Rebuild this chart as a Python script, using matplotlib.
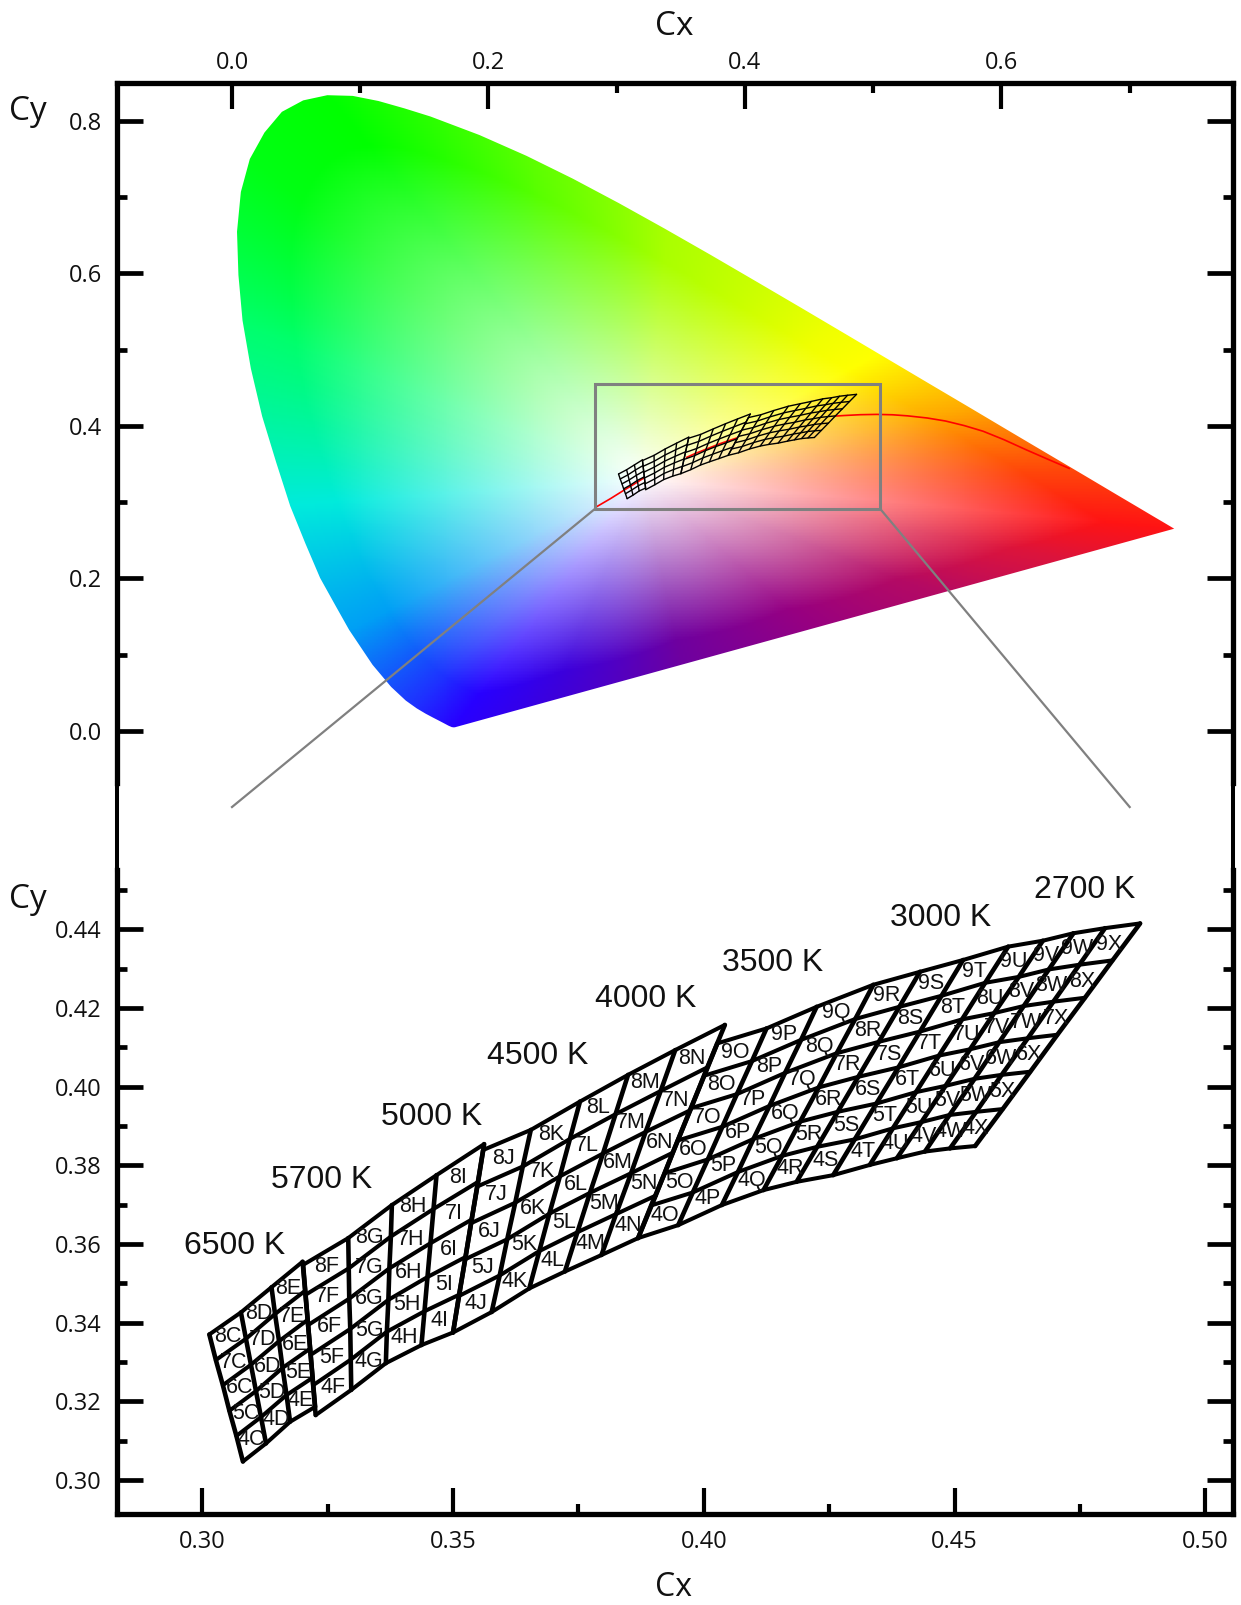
import numpy as np
import matplotlib
matplotlib.use("Agg")
import matplotlib.pyplot as plt
from matplotlib.lines import Line2D
from matplotlib.patches import Polygon, Rectangle

# spectral locus (CIE 1931), 380 nm to 700 nm
locus_x = [0.1741, 0.1733, 0.1726, 0.1714, 0.1689, 0.1644, 0.1611, 0.1566, 0.1510, 0.1440,
           0.1355, 0.1241, 0.1096, 0.0913, 0.0805, 0.0687, 0.0573, 0.0454, 0.0345, 0.0235,
           0.0147, 0.0082, 0.0050, 0.0039, 0.0069, 0.0139, 0.0253, 0.0389, 0.0555, 0.0743,
           0.0941, 0.1142, 0.1345, 0.1547, 0.1929, 0.2296, 0.2658, 0.3016, 0.3373, 0.3731,
           0.4087, 0.4441, 0.4788, 0.5125, 0.5448, 0.5752, 0.6029, 0.6270, 0.6658, 0.6915,
           0.7079, 0.7190, 0.7260, 0.7300, 0.7334, 0.7347]
locus_y = [0.0050, 0.0048, 0.0048, 0.0051, 0.0069, 0.0109, 0.0138, 0.0177, 0.0227, 0.0297,
           0.0399, 0.0578, 0.0868, 0.1327, 0.1650, 0.2007, 0.2456, 0.2950, 0.3520, 0.4127,
           0.4754, 0.5384, 0.5980, 0.6548, 0.7069, 0.7502, 0.7848, 0.8120, 0.8270, 0.8338,
           0.8329, 0.8262, 0.8165, 0.8059, 0.7816, 0.7543, 0.7243, 0.6923, 0.6589, 0.6245,
           0.5896, 0.5547, 0.5202, 0.4866, 0.4544, 0.4242, 0.3965, 0.3725, 0.3340, 0.3083,
           0.2920, 0.2809, 0.2740, 0.2700, 0.2666, 0.2653]

# points on the straight purple edge, so the fade below reaches full colour there
purple_x = [0.65, 0.55, 0.45, 0.35, 0.25]
purple_y = [0.2256, 0.1793, 0.1329, 0.0866, 0.0402]

# colours read along the edge of the horseshoe, the inside fades to white at the white point
edge_x = [0.174, 0.140, 0.090, 0.045, 0.010, 0.014, 0.074, 0.230, 0.340, 0.470, 0.500, 0.575, 0.660, 0.735,
          0.650, 0.550, 0.450, 0.350, 0.250]
edge_y = [0.005, 0.030, 0.130, 0.295, 0.530, 0.750, 0.834, 0.754, 0.660, 0.530, 0.490, 0.424, 0.340, 0.265,
          0.225, 0.180, 0.135, 0.090, 0.040]
edge_r = [40, 30, 0, 0, 0, 0, 0, 90, 170, 240, 255, 255, 255, 255, 220, 180, 150, 110, 60]
edge_g = [0, 50, 160, 235, 255, 255, 255, 255, 255, 255, 255, 170, 70, 20, 20, 10, 0, 0, 0]
edge_b = [255, 255, 245, 220, 110, 20, 0, 0, 0, 0, 0, 0, 10, 20, 60, 100, 130, 160, 220]
white_x, white_y = 0.32, 0.33

# black body curve, only the pieces that show through the small grid (nan = gap)
bb_x = [0.2844, 0.2952, 0.3064, 0.3135, 0.3207, np.nan, 0.3546, 0.3608, 0.3805, 0.3935, np.nan,
        0.4715, 0.4770, 0.4900, 0.5029, 0.5150, 0.5267, 0.5420, 0.5564, 0.5710, 0.5857, 0.6020, 0.6190, 0.6360, 0.6528]
bb_y = [0.2942, 0.3048, 0.3166, 0.3237, 0.3314, np.nan, 0.3589, 0.3636, 0.3768, 0.3842, np.nan,
        0.4131, 0.4137, 0.4148, 0.4152, 0.4147, 0.4133, 0.4105, 0.4065, 0.4005, 0.3931, 0.3820, 0.3690, 0.3565, 0.3444]

# bin grid corners, one inner list per column line, bottom to top
g1_x = [[0.3081, 0.3068, 0.3054, 0.3041, 0.3027, 0.3014],
        [0.3127, 0.3117, 0.3107, 0.3097, 0.3087, 0.3077],
        [0.3175, 0.3168, 0.3160, 0.3153, 0.3145, 0.3138],
        [0.3225, 0.3220, 0.3215, 0.3210, 0.3205, 0.3200]]
g1_y = [[0.3047, 0.3112, 0.3176, 0.3241, 0.3305, 0.3370],
        [0.3093, 0.3160, 0.3226, 0.3293, 0.3359, 0.3426],
        [0.3148, 0.3216, 0.3285, 0.3353, 0.3422, 0.3490],
        [0.3186, 0.3260, 0.3334, 0.3407, 0.3481, 0.3555]]
g2_x = [[0.3226, 0.3221, 0.3216, 0.3211, 0.3206, 0.3201],
        [0.3297, 0.3296, 0.3295, 0.3293, 0.3292, 0.3291],
        [0.3366, 0.3368, 0.3371, 0.3373, 0.3376, 0.3378],
        [0.3437, 0.3443, 0.3449, 0.3455, 0.3461, 0.3467],
        [0.3500, 0.3512, 0.3525, 0.3537, 0.3550, 0.3562]]
g2_y = [[0.3165, 0.3241, 0.3318, 0.3394, 0.3471, 0.3547],
        [0.3229, 0.3306, 0.3384, 0.3461, 0.3538, 0.3615],
        [0.3297, 0.3377, 0.3458, 0.3538, 0.3619, 0.3699],
        [0.3343, 0.3429, 0.3516, 0.3602, 0.3689, 0.3775],
        [0.3375, 0.3471, 0.3567, 0.3662, 0.3758, 0.3854]]
g3_x = [[0.3500, 0.3512, 0.3524, 0.3536, 0.3548, 0.3560],
        [0.3577, 0.3593, 0.3608, 0.3624, 0.3639, 0.3655],
        [0.3652, 0.3672, 0.3692, 0.3713, 0.3733, 0.3753],
        [0.3723, 0.3748, 0.3773, 0.3799, 0.3824, 0.3849],
        [0.3796, 0.3825, 0.3855, 0.3884, 0.3914, 0.3943],
        [0.3869, 0.3904, 0.3938, 0.3973, 0.4007, 0.4042]]
g3_y = [[0.3375, 0.3468, 0.3561, 0.3653, 0.3746, 0.3839],
        [0.3427, 0.3520, 0.3612, 0.3705, 0.3797, 0.3890],
        [0.3487, 0.3582, 0.3677, 0.3772, 0.3867, 0.3962],
        [0.3530, 0.3630, 0.3730, 0.3830, 0.3930, 0.4030],
        [0.3572, 0.3676, 0.3780, 0.3885, 0.3989, 0.4093],
        [0.3615, 0.3723, 0.3832, 0.3940, 0.4049, 0.4157]]
g4_x = [[0.3869, 0.3895, 0.3922, 0.3948, 0.3974, 0.4001, 0.4027],
        [0.3949, 0.3978, 0.4008, 0.4037, 0.4066, 0.4096, 0.4125],
        [0.4036, 0.4068, 0.4099, 0.4131, 0.4162, 0.4194, 0.4225],
        [0.4119, 0.4156, 0.4192, 0.4229, 0.4265, 0.4302, 0.4338],
        [0.4185, 0.4226, 0.4267, 0.4308, 0.4349, 0.4390, 0.4431],
        [0.4258, 0.4301, 0.4344, 0.4388, 0.4431, 0.4474, 0.4517],
        [0.4331, 0.4377, 0.4423, 0.4469, 0.4515, 0.4561, 0.4607],
        [0.4385, 0.4434, 0.4482, 0.4531, 0.4579, 0.4628, 0.4676],
        [0.4441, 0.4490, 0.4540, 0.4589, 0.4638, 0.4688, 0.4737],
        [0.4491, 0.4543, 0.4594, 0.4646, 0.4697, 0.4749, 0.4800],
        [0.4541, 0.4596, 0.4651, 0.4705, 0.4760, 0.4815, 0.4870]]
g4_y = [[0.3615, 0.3698, 0.3780, 0.3863, 0.3945, 0.4028, 0.4110],
        [0.3648, 0.3731, 0.3815, 0.3898, 0.3981, 0.4065, 0.4148],
        [0.3699, 0.3783, 0.3867, 0.3951, 0.4035, 0.4119, 0.4203],
        [0.3737, 0.3824, 0.3911, 0.3998, 0.4085, 0.4172, 0.4259],
        [0.3758, 0.3847, 0.3936, 0.4025, 0.4114, 0.4203, 0.4292],
        [0.3775, 0.3866, 0.3957, 0.4049, 0.4140, 0.4231, 0.4322],
        [0.3801, 0.3894, 0.3986, 0.4079, 0.4171, 0.4264, 0.4356],
        [0.3818, 0.3910, 0.4002, 0.4095, 0.4187, 0.4279, 0.4371],
        [0.3835, 0.3928, 0.4020, 0.4113, 0.4205, 0.4298, 0.4390],
        [0.3843, 0.3936, 0.4030, 0.4123, 0.4216, 0.4310, 0.4403],
        [0.3849, 0.3943, 0.4038, 0.4132, 0.4226, 0.4321, 0.4415]]

groups = [(g1_x, g1_y, "CDE"), (g2_x, g2_y, "FGHI"), (g3_x, g3_y, "JKLMN"), (g4_x, g4_y, "OPQRSTUVWX")]

cct_names = ["6500 K", "5700 K", "5000 K", "4500 K", "4000 K", "3500 K", "3000 K", "2700 K"]
cct_x = [0.3064, 0.3238, 0.3457, 0.3669, 0.3884, 0.4137, 0.4473, 0.4759]
cct_y = [0.3594, 0.3762, 0.3924, 0.4077, 0.4223, 0.4314, 0.4428, 0.4500]

upper_major_x = [0.0, 0.2, 0.4, 0.6]
upper_minor_x = [0.1, 0.3, 0.5, 0.7]
upper_major_y = [0.0, 0.2, 0.4, 0.6, 0.8]
upper_minor_y = [0.1, 0.3, 0.5, 0.7]
lower_major_x = [0.30, 0.35, 0.40, 0.45, 0.50]
lower_minor_x = [0.325, 0.375, 0.425, 0.475]
lower_major_y = [0.30, 0.32, 0.34, 0.36, 0.38, 0.40, 0.42, 0.44]
lower_minor_y = [0.31, 0.33, 0.35, 0.37, 0.39, 0.41, 0.43, 0.45]

W, H = 1241, 1605
lower_xlim = (0.28299, 0.50546)
lower_ylim = (0.29128, 0.45508)

TICK_FONT = "Open Sans"
LABEL_FONT = "Liberation Sans"

fig = plt.figure(figsize=(W / 100, H / 100), dpi=100)


def place(left, top, right, bottom):
    # pixel box to figure fractions
    return [left / W, 1 - bottom / H, (right - left) / W, (bottom - top) / H]


top_ax = fig.add_axes(place(117, 83, 1232.7, 783))
low_ax = fig.add_axes(place(117, 870, 1232.7, 1514.3))
top_ax.set_xlim(-0.08968, 0.78032)
top_ax.set_ylim(-0.0682, 0.8498)
low_ax.set_xlim(*lower_xlim)
low_ax.set_ylim(*lower_ylim)


def chroma_colors(x, y):
    # each point mixes white with the edge colour in its direction from the white point
    bx = np.array(locus_x + purple_x) - white_x
    by = np.array(locus_y + purple_y) - white_y
    edge_ang = np.arctan2(np.array(edge_y) - white_y, np.array(edge_x) - white_x)
    ang = np.arctan2(y - white_y, x - white_x)
    rad = np.hypot(y - white_y, x - white_x)
    t = rad / np.interp(ang, np.arctan2(by, bx), np.hypot(by, bx), period=2 * np.pi)
    t = np.clip(t * 1.15, 0, 1)
    rgb = np.zeros(x.shape + (3,))
    for k, chan in enumerate((edge_r, edge_g, edge_b)):
        edge = np.interp(ang, edge_ang, np.array(chan) / 255.0, period=2 * np.pi)
        rgb[..., k] = 1 + (edge - 1) * t
    return rgb


gx, gy = np.meshgrid(np.linspace(0, 0.74, 480), np.linspace(0.001, 0.84, 420))
field = top_ax.imshow(chroma_colors(gx, gy), origin="lower", extent=(0, 0.74, 0.001, 0.84),
                      aspect="auto", interpolation="nearest", zorder=1)
horseshoe = Polygon(np.column_stack([locus_x, locus_y]), closed=True, transform=top_ax.transData,
                    facecolor="none", edgecolor="none")
top_ax.add_patch(horseshoe)
field.set_clip_path(horseshoe)

top_ax.plot(bb_x, bb_y, color="#ff0000", lw=1.2, zorder=2)

# zoom box and the two lines going down to the lower panel
top_ax.add_patch(Rectangle((lower_xlim[0], lower_ylim[0]), lower_xlim[1] - lower_xlim[0],
                           lower_ylim[1] - lower_ylim[0], fill=False, edgecolor="#808080", lw=2.2, zorder=3))
top_ax.plot([lower_xlim[0], 0.0], [lower_ylim[0], -0.0997], color="#808080", lw=1.6, clip_on=False, zorder=3)
top_ax.plot([lower_xlim[1], 0.7], [lower_ylim[0], -0.0997], color="#808080", lw=1.6, clip_on=False, zorder=3)


def draw_bins(ax, lw_col, lw_row, labels):
    for xs, ys, cols in groups:
        xs = np.array(xs)
        ys = np.array(ys)
        for i in range(xs.shape[0]):
            ax.plot(xs[i], ys[i], color="black", lw=lw_col, solid_capstyle="round", zorder=4)
        for j in range(xs.shape[1]):
            ax.plot(xs[:, j], ys[:, j], color="black", lw=lw_row, solid_capstyle="round", zorder=4)
        if not labels:
            continue
        for i, col in enumerate(cols):
            for j in range(xs.shape[1] - 1):
                cx = xs[i:i + 2, j:j + 2].mean()
                cy = ys[i:i + 2, j:j + 2].mean()
                ax.text(cx, cy, str(j + 4) + col, fontsize=15.5, family=LABEL_FONT, color="#111111",
                        ha="center", va="center", zorder=5)


draw_bins(top_ax, 1.0, 1.0, False)
draw_bins(low_ax, 3.3, 2.9, True)

for name, cx, cy in zip(cct_names, cct_x, cct_y):
    low_ax.text(cx, cy, name, fontsize=23, family=LABEL_FONT, color="#111111", ha="center", va="center")

# axes furniture
top_ax.set_xticks(upper_major_x, ["%.1f" % v for v in upper_major_x])
top_ax.set_xticks(upper_minor_x, minor=True)
top_ax.set_yticks(upper_major_y, ["%.1f" % v for v in upper_major_y])
top_ax.set_yticks(upper_minor_y, minor=True)
top_ax.xaxis.tick_top()
low_ax.set_xticks(lower_major_x, ["%.2f" % v for v in lower_major_x])
low_ax.set_xticks(lower_minor_x, minor=True)
low_ax.set_yticks(lower_major_y, ["%.2f" % v for v in lower_major_y])
low_ax.set_yticks(lower_minor_y, minor=True)

for ax, x_side in ((top_ax, "top"), (low_ax, "bottom")):
    for side in ax.spines:
        ax.spines[side].set_linewidth(3.8)
    ax.spines["bottom" if x_side == "top" else "top"].set_visible(False)
    ax.tick_params(axis="both", which="major", direction="in", length=18.5, width=3.4, pad=11,
                   labelsize=17, labelcolor="#111111")
    ax.tick_params(axis="both", which="minor", direction="in", length=7.5, width=3.4)
    ax.tick_params(axis="x", which="both", width=3.0, top=x_side == "top", bottom=x_side == "bottom",
                   labeltop=x_side == "top", labelbottom=x_side == "bottom")
    ax.tick_params(axis="y", which="both", left=True, right=True)
    for lab in ax.get_xticklabels() + ax.get_yticklabels():
        lab.set_family(TICK_FONT)
top_ax.tick_params(axis="x", which="major", pad=6)

# thinner bit of the frame between the two panels
for px in (117, 1232.7):
    fig.add_artist(Line2D([px / W, px / W], [1 - 783 / H, 1 - 870 / H], color="black", lw=2.9,
                          transform=fig.transFigure))

fig.text(674 / W, 1 - 26.5 / H, "Cx", fontsize=24, family=TICK_FONT, color="#111111", ha="center", va="center")
fig.text(674 / W, 1 - 1587 / H, "Cx", fontsize=23, family=TICK_FONT, color="#111111", ha="center", va="center")
fig.text(28 / W, 1 - 112 / H, "Cy", fontsize=24, family=TICK_FONT, color="#111111", ha="center", va="center")
fig.text(28 / W, 1 - 899 / H, "Cy", fontsize=24, family=TICK_FONT, color="#111111", ha="center", va="center")

fig.savefig("out.png", dpi=100)
